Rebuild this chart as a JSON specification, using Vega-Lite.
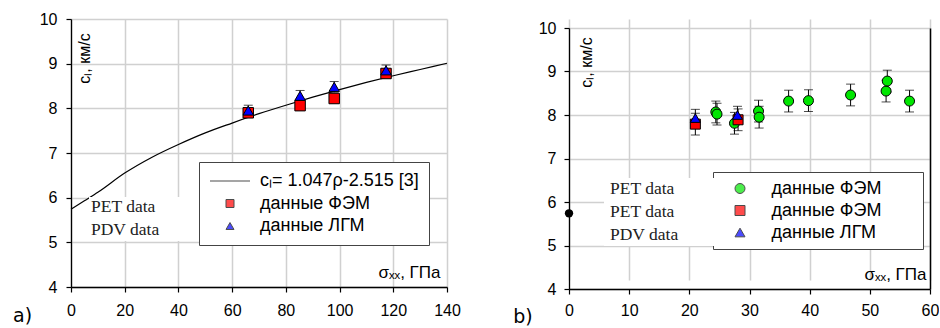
{
  "$schema": "https://vega.github.io/schema/vega-lite/v6.json",
  "background": "white",
  "padding": {"left": 13, "top": 11, "right": 0, "bottom": 0},
  "spacing": 52,
  "datasets": {
    "curve": [
      {"s": 0, "c": 5.74}, {"s": 5, "c": 5.93}, {"s": 10, "c": 6.12}, {"s": 20, "c": 6.55},
      {"s": 30, "c": 6.9}, {"s": 40, "c": 7.19}, {"s": 50, "c": 7.45}, {"s": 60, "c": 7.67},
      {"s": 70, "c": 7.88}, {"s": 80, "c": 8.07}, {"s": 90, "c": 8.25}, {"s": 100, "c": 8.42},
      {"s": 110, "c": 8.58}, {"s": 120, "c": 8.73}, {"s": 130, "c": 8.87}, {"s": 140, "c": 9.01}
    ],
    "lpts": [
      {"s": 66.0, "c": 7.90, "lo": 7.80, "hi": 8.00, "series": "данные ФЭМ", "meth": "PET data"},
      {"s": 85.3, "c": 8.06, "lo": 7.96, "hi": 8.16, "series": "данные ФЭМ", "meth": "PET data"},
      {"s": 98.0, "c": 8.22, "lo": 8.12, "hi": 8.32, "series": "данные ФЭМ", "meth": "PET data"},
      {"s": 117.3, "c": 8.78, "lo": 8.68, "hi": 8.88, "series": "данные ФЭМ", "meth": "PET data"},
      {"s": 66.0, "c": 7.95, "lo": 7.83, "hi": 8.07, "series": "данные ЛГМ", "meth": "PDV data"},
      {"s": 85.3, "c": 8.28, "lo": 8.16, "hi": 8.40, "series": "данные ЛГМ", "meth": "PDV data"},
      {"s": 98.0, "c": 8.48, "lo": 8.36, "hi": 8.60, "series": "данные ЛГМ", "meth": "PDV data"},
      {"s": 117.3, "c": 8.85, "lo": 8.73, "hi": 8.97, "series": "данные ЛГМ", "meth": "PDV data"}
    ],
    "rpts": [
      {"s": 24.4, "c": 8.07, "lo": 7.82, "hi": 8.32, "series": "FEM1", "meth": "PET1"},
      {"s": 24.6, "c": 8.02, "lo": 7.77, "hi": 8.27, "series": "FEM1", "meth": "PET1"},
      {"s": 27.5, "c": 7.81, "lo": 7.56, "hi": 8.06, "series": "FEM1", "meth": "PET1"},
      {"s": 31.5, "c": 8.09, "lo": 7.84, "hi": 8.34, "series": "FEM1", "meth": "PET1"},
      {"s": 31.6, "c": 7.95, "lo": 7.70, "hi": 8.20, "series": "FEM1", "meth": "PET1"},
      {"s": 36.5, "c": 8.32, "lo": 8.07, "hi": 8.57, "series": "FEM1", "meth": "PET1"},
      {"s": 39.8, "c": 8.33, "lo": 8.08, "hi": 8.58, "series": "FEM1", "meth": "PET1"},
      {"s": 46.8, "c": 8.46, "lo": 8.21, "hi": 8.71, "series": "FEM1", "meth": "PET1"},
      {"s": 52.7, "c": 8.55, "lo": 8.30, "hi": 8.80, "series": "FEM1", "meth": "PET1"},
      {"s": 52.9, "c": 8.78, "lo": 8.53, "hi": 9.03, "series": "FEM1", "meth": "PET1"},
      {"s": 56.6, "c": 8.32, "lo": 8.07, "hi": 8.57, "series": "FEM1", "meth": "PET1"},
      {"s": 21.0, "c": 7.79, "lo": 7.54, "hi": 8.04, "series": "FEM2", "meth": "PET2"},
      {"s": 28.1, "c": 7.89, "lo": 7.64, "hi": 8.14, "series": "FEM2", "meth": "PET2"},
      {"s": 21.0, "c": 7.93, "lo": 7.73, "hi": 8.13, "series": "LGM", "meth": "PDV"},
      {"s": 28.0, "c": 8.00, "lo": 7.80, "hi": 8.20, "series": "LGM", "meth": "PDV"}
    ],
    "rdot": [{"s": 0, "c": 5.74}]
  },
  "hconcat": [
    {
      "width": 376,
      "height": 268,
      "title": {"text": "a)", "orient": "left", "anchor": "start", "frame": "group", "angle": 0, "align": "right", "baseline": "middle", "offset": -12, "dy": 29, "font": "DejaVu Sans", "fontSize": 19, "fontWeight": "normal", "color": "black"},
      "layer": [
        {
          "data": {"name": "curve"},
          "mark": {"type": "line", "color": "black", "strokeWidth": 1.2, "interpolate": "monotone"},
          "encoding": {
            "x": {"field": "s", "type": "quantitative", "scale": {"domain": [0, 140], "nice": false, "zero": false},
              "axis": {"values": [0, 20, 40, 60, 80, 100, 120, 140], "labelPadding": 10, "title": "σₓₓ, ГПа", "titleX": 369, "titleY": -10, "titleAlign": "right", "titleBaseline": "alphabetic", "titleFontSize": 17}},
            "y": {"field": "c", "type": "quantitative", "scale": {"domain": [4, 10], "nice": false, "zero": false},
              "axis": {"values": [4, 5, 6, 7, 8, 9, 10], "labelPadding": 9, "title": "cₗ, км/с", "titleAngle": 270, "titleX": 13, "titleY": 39, "titleAlign": "center", "titleBaseline": "middle", "titleFontSize": 16}}
          }
        },
        {
          "data": {"name": "lpts"},
          "mark": {"type": "rule", "color": "black", "strokeWidth": 1},
          "encoding": {
            "x": {"field": "s", "type": "quantitative"},
            "y": {"field": "lo", "type": "quantitative"},
            "y2": {"field": "hi"}
          }
        },
        {
          "data": {"name": "lpts"},
          "mark": {"type": "tick", "orient": "horizontal", "color": "black", "size": 9, "thickness": 1},
          "encoding": {"x": {"field": "s", "type": "quantitative"}, "y": {"field": "lo", "type": "quantitative"}}
        },
        {
          "data": {"name": "lpts"},
          "mark": {"type": "tick", "orient": "horizontal", "color": "black", "size": 9, "thickness": 1},
          "encoding": {"x": {"field": "s", "type": "quantitative"}, "y": {"field": "hi", "type": "quantitative"}}
        },
        {
          "data": {"name": "lpts"},
          "mark": {"type": "point", "filled": true, "stroke": "black", "strokeWidth": 1, "size": 110},
          "encoding": {
            "x": {"field": "s", "type": "quantitative"},
            "y": {"field": "c", "type": "quantitative"},
            "color": {"field": "series", "type": "nominal",
              "scale": {"domain": ["cₗ= 1.047ρ-2.515 [3]", "данные ФЭМ", "данные ЛГМ"], "range": ["black", "#ff0000", "#0000ff"]},
              "legend": {"orient": "none", "legendX": 128, "legendY": 143, "title": null, "padding": 10, "rowPadding": 4.5, "symbolSize": 64, "symbolOffset": 12, "labelOffset": 21, "labelFontSize": 18, "labelFont": "Liberation Sans", "labelColor": "black", "labelLimit": 400, "fillColor": "white", "strokeColor": "#444", "symbolStrokeWidth": 1, "symbolStrokeColor": "black"}},
            "shape": {"field": "series", "type": "nominal",
              "scale": {"domain": ["cₗ= 1.047ρ-2.515 [3]", "данные ФЭМ", "данные ЛГМ"], "range": ["M-5,0H5", "square", "triangle-up"]},
              "legend": {"orient": "none", "legendX": 128, "legendY": 143, "title": null, "padding": 10, "rowPadding": 4.5, "symbolSize": 64, "symbolOffset": 12, "labelOffset": 21, "labelFontSize": 18, "labelFont": "Liberation Sans", "labelColor": "black", "labelLimit": 400, "fillColor": "white", "strokeColor": "#444", "symbolStrokeWidth": 1, "symbolStrokeColor": "black"}},
            "opacity": {"field": "meth", "type": "ordinal",
              "scale": {"domain": ["PET data", "PDV data"], "range": [1, 1]},
              "legend": {"orient": "none", "legendX": 18, "legendY": 178, "title": " ", "titleOrient": "right", "titlePadding": 38, "titleFontSize": 10, "padding": 1.5, "rowPadding": 4, "symbolSize": 0, "symbolStrokeWidth": 0, "symbolOpacity": 0, "labelOffset": -17, "labelFontSize": 17.5, "labelFont": "Liberation Serif", "labelColor": "#222", "fillColor": "white"}}
          }
        }
      ]
    },
    {
      "width": 361,
      "height": 270,
      "title": {"text": "b)", "orient": "left", "anchor": "start", "frame": "group", "angle": 0, "align": "right", "baseline": "middle", "offset": -14, "dy": 28, "font": "DejaVu Sans", "fontSize": 19, "fontWeight": "normal", "color": "black"},
      "resolve": {"axis": {"x": "independent", "y": "independent"}},
      "layer": [
        {
          "layer": [
            {
              "data": {"name": "rpts"},
              "mark": {"type": "rule", "color": "black", "strokeWidth": 1},
              "encoding": {
                "x": {"field": "s", "type": "quantitative", "scale": {"domain": [0, 60], "nice": false, "zero": false},
                  "axis": {"values": [0, 10, 20, 30, 40, 50, 60], "labelPadding": 8, "title": "σₓₓ, ГПа", "titleX": 357, "titleY": -10, "titleAlign": "right", "titleBaseline": "alphabetic", "titleFontSize": 17}},
                "y": {"field": "lo", "type": "quantitative", "scale": {"domain": [4, 10], "range": [270, 9], "nice": false, "zero": false},
                  "axis": {"values": [4, 5, 6, 7, 8, 9, 10], "labelPadding": 8, "title": "cₗ, км/с", "titleAngle": 270, "titleX": 17, "titleY": 43, "titleAlign": "center", "titleBaseline": "middle", "titleFontSize": 16}},
                "y2": {"field": "hi"}
              }
            },
            {
              "data": {"name": "rpts"},
              "mark": {"type": "tick", "orient": "horizontal", "color": "black", "size": 9, "thickness": 1},
              "encoding": {"x": {"field": "s", "type": "quantitative"}, "y": {"field": "lo", "type": "quantitative"}}
            },
            {
              "data": {"name": "rpts"},
              "mark": {"type": "tick", "orient": "horizontal", "color": "black", "size": 9, "thickness": 1},
              "encoding": {"x": {"field": "s", "type": "quantitative"}, "y": {"field": "hi", "type": "quantitative"}}
            },
            {
              "data": {"name": "rpts"},
              "mark": {"type": "point", "filled": true, "stroke": "black", "strokeWidth": 1, "size": 100},
              "encoding": {
                "x": {"field": "s", "type": "quantitative"},
                "y": {"field": "c", "type": "quantitative"},
                "color": {"field": "series", "type": "nominal",
                  "scale": {"domain": ["FEM1", "FEM2", "LGM"], "range": ["#00e600", "#ff0000", "#0000ff"]},
                  "legend": {"orient": "none", "legendX": 144, "legendY": 153, "title": " ", "titleOrient": "right", "titlePadding": 34, "titleFontSize": 10, "padding": 7.5, "rowPadding": 4, "symbolSize": 100, "symbolOffset": 10.5, "labelOffset": 22.5, "labelFontSize": 18, "labelFont": "Liberation Sans", "labelColor": "black", "labelExpr": "datum.value == 'LGM' ? 'данные ЛГМ' : 'данные ФЭМ'", "fillColor": "white", "strokeColor": "#444", "symbolStrokeWidth": 1, "symbolStrokeColor": "black"}},
                "shape": {"field": "series", "type": "nominal",
                  "scale": {"domain": ["FEM1", "FEM2", "LGM"], "range": ["circle", "square", "triangle-up"]},
                  "legend": {"orient": "none", "legendX": 144, "legendY": 153, "title": " ", "titleOrient": "right", "titlePadding": 34, "titleFontSize": 10, "padding": 7.5, "rowPadding": 4, "symbolSize": 100, "symbolOffset": 10.5, "labelOffset": 22.5, "labelFontSize": 18, "labelFont": "Liberation Sans", "labelColor": "black", "labelExpr": "datum.value == 'LGM' ? 'данные ЛГМ' : 'данные ФЭМ'", "fillColor": "white", "strokeColor": "#444", "symbolStrokeWidth": 1, "symbolStrokeColor": "black"}},
                "opacity": {"field": "meth", "type": "ordinal",
                  "scale": {"domain": ["PET1", "PET2", "PDV"], "range": [1, 1]},
                  "legend": {"orient": "none", "legendX": 35, "legendY": 159, "title": " ", "titleOrient": "right", "titlePadding": 38.5, "titleFontSize": 10, "padding": 2.25, "rowPadding": 4, "symbolSize": 0, "symbolStrokeWidth": 0, "symbolOpacity": 0, "labelOffset": -13.75, "labelFontSize": 17.5, "labelFont": "Liberation Serif", "labelColor": "#222", "labelExpr": "datum.value == 'PDV' ? 'PDV data' : 'PET data'", "fillColor": "white"}}
              }
            }
          ]
        },
        {
          "data": {"name": "rdot"},
          "mark": {"type": "point", "filled": true, "color": "black", "size": 70, "opacity": 1},
          "encoding": {
            "x": {"field": "s", "type": "quantitative", "axis": null},
            "y": {"field": "c", "type": "quantitative", "axis": {"orient": "right", "labels": false, "ticks": false, "grid": false, "title": null, "domain": true, "domainColor": "black", "domainWidth": 1.5, "minExtent": 0, "maxExtent": 0, "zindex": 2}}
          }
        }
      ]
    }
  ],
  "resolve": {
    "scale": {"color": "independent", "shape": "independent", "opacity": "independent"},
    "legend": {"color": "independent", "shape": "independent", "opacity": "independent"}
  },
  "config": {
    "view": {"stroke": null},
    "axis": {"labelFont": "Liberation Sans", "labelFontSize": 16, "labelColor": "black", "titleFont": "Liberation Sans", "titleFontWeight": "normal", "titleColor": "black", "gridColor": "#d0d0d0", "gridWidth": 1.5, "domainColor": "black", "domainWidth": 1.3, "tickColor": "black", "tickSize": 5, "tickWidth": 1.2, "labelFlush": false}
  }
}
